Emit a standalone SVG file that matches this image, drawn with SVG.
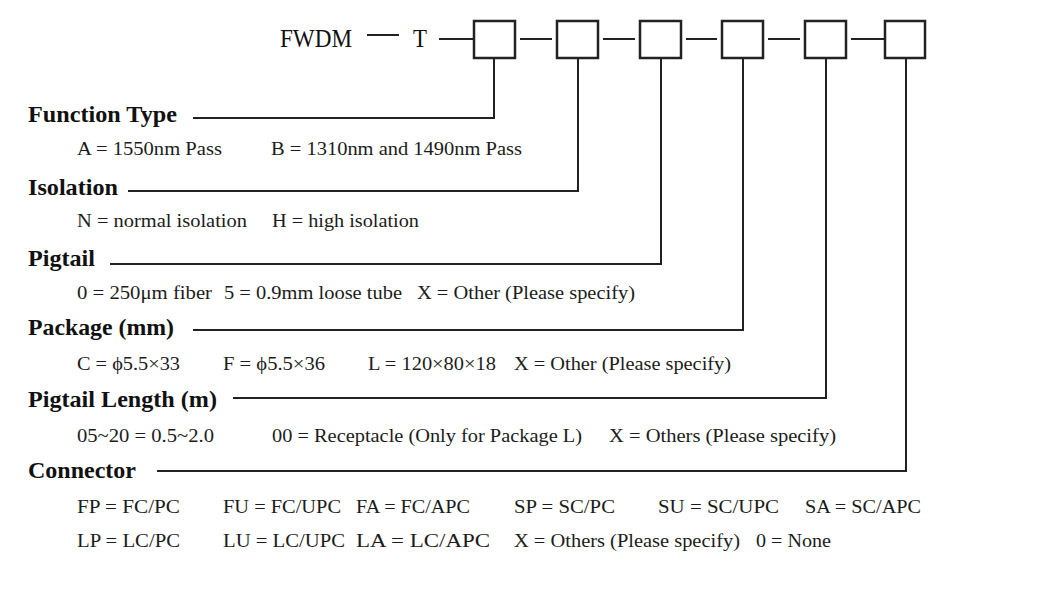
<svg xmlns="http://www.w3.org/2000/svg" width="1044" height="599" viewBox="0 0 1044 599">
<style>
text{font-family:"Liberation Serif","Times New Roman",serif;fill:#111}
.hd{font-size:23px;font-weight:bold}
.op{font-size:18px;fill:#1c1c1c}
.code{font-size:25px}
.box{fill:#fff;stroke:#222;stroke-width:2.5}
.ln{fill:none;stroke:#222;stroke-width:2}
</style>
<rect width="1044" height="599" fill="#fff"/>
<g id="code">
<text class="code" x="280" y="47" textLength="72" lengthAdjust="spacingAndGlyphs">FWDM</text>
<text class="code" x="413" y="47" textLength="14" lengthAdjust="spacingAndGlyphs">T</text>
</g>
<g id="box1"><rect class="box" x="474" y="21" width="41" height="37"/></g>
<g id="box2"><rect class="box" x="557" y="21" width="41" height="37"/></g>
<g id="box3"><rect class="box" x="640" y="21" width="41" height="37"/></g>
<g id="box4"><rect class="box" x="722" y="21" width="41" height="37"/></g>
<g id="box5"><rect class="box" x="805" y="21" width="41" height="37"/></g>
<g id="box6"><rect class="box" x="885" y="21" width="40" height="37"/></g>
<g id="connectors" class="ln">
<line x1="367" y1="35" x2="399" y2="35"/>
<line x1="439" y1="39" x2="474" y2="39"/>
<line x1="520" y1="39" x2="552" y2="39"/>
<line x1="603" y1="39" x2="635" y2="39"/>
<line x1="686" y1="39" x2="717" y2="39"/>
<line x1="768" y1="39" x2="800" y2="39"/>
<line x1="851" y1="39" x2="885" y2="39"/>
<polyline points="494,58 494,118 193,118"/>
<polyline points="578,58 578,191 128,191"/>
<polyline points="661,58 661,264 110,264"/>
<polyline points="743,58 743,330 193,330"/>
<polyline points="826,58 826,398 233,398"/>
<polyline points="906,58 906,471 157,471"/>
</g>
<g id="function-type">
<text class="hd" x="28" y="122" textLength="149" lengthAdjust="spacingAndGlyphs">Function Type</text>
<text class="op" x="77" y="155" textLength="145" lengthAdjust="spacingAndGlyphs">A = 1550nm Pass</text>
<text class="op" x="271" y="155" textLength="251" lengthAdjust="spacingAndGlyphs">B = 1310nm and 1490nm Pass</text>
</g>
<g id="isolation">
<text class="hd" x="28" y="195" textLength="90" lengthAdjust="spacingAndGlyphs">Isolation</text>
<text class="op" x="77" y="227" textLength="170" lengthAdjust="spacingAndGlyphs">N = normal isolation</text>
<text class="op" x="272" y="227" textLength="147" lengthAdjust="spacingAndGlyphs">H = high isolation</text>
</g>
<g id="pigtail">
<text class="hd" x="28" y="266" textLength="67" lengthAdjust="spacingAndGlyphs">Pigtail</text>
<text class="op" x="77" y="299" textLength="135" lengthAdjust="spacingAndGlyphs">0 = 250μm fiber</text>
<text class="op" x="224" y="299" textLength="178" lengthAdjust="spacingAndGlyphs">5 = 0.9mm loose tube</text>
<text class="op" x="417" y="299" textLength="218" lengthAdjust="spacingAndGlyphs">X = Other (Please specify)</text>
</g>
<g id="package">
<text class="hd" x="28" y="335" textLength="146" lengthAdjust="spacingAndGlyphs">Package (mm)</text>
<text class="op" x="77" y="370" textLength="103" lengthAdjust="spacingAndGlyphs">C = ϕ5.5×33</text>
<text class="op" x="223" y="370" textLength="102" lengthAdjust="spacingAndGlyphs">F = ϕ5.5×36</text>
<text class="op" x="368" y="370" textLength="128" lengthAdjust="spacingAndGlyphs">L = 120×80×18</text>
<text class="op" x="514" y="370" textLength="217" lengthAdjust="spacingAndGlyphs">X = Other (Please specify)</text>
</g>
<g id="pigtail-length">
<text class="hd" x="28" y="407" textLength="189" lengthAdjust="spacingAndGlyphs">Pigtail Length (m)</text>
<text class="op" x="77" y="442" textLength="137" lengthAdjust="spacingAndGlyphs">05~20 = 0.5~2.0</text>
<text class="op" x="272" y="442" textLength="310" lengthAdjust="spacingAndGlyphs">00 = Receptacle (Only for Package L)</text>
<text class="op" x="609" y="442" textLength="227" lengthAdjust="spacingAndGlyphs">X = Others (Please specify)</text>
</g>
<g id="connector">
<text class="hd" x="28" y="478" textLength="108" lengthAdjust="spacingAndGlyphs">Connector</text>
<text class="op" x="77" y="513" textLength="103" lengthAdjust="spacingAndGlyphs">FP = FC/PC</text>
<text class="op" x="223" y="513" textLength="118" lengthAdjust="spacingAndGlyphs">FU = FC/UPC</text>
<text class="op" x="356" y="513" textLength="114" lengthAdjust="spacingAndGlyphs">FA = FC/APC</text>
<text class="op" x="514" y="513" textLength="101" lengthAdjust="spacingAndGlyphs">SP = SC/PC</text>
<text class="op" x="658" y="513" textLength="121" lengthAdjust="spacingAndGlyphs">SU = SC/UPC</text>
<text class="op" x="805" y="513" textLength="116" lengthAdjust="spacingAndGlyphs">SA = SC/APC</text>
<text class="op" x="77" y="547" textLength="103" lengthAdjust="spacingAndGlyphs">LP = LC/PC</text>
<text class="op" x="223" y="547" textLength="122" lengthAdjust="spacingAndGlyphs">LU = LC/UPC</text>
<text class="op" x="356" y="547" textLength="134" lengthAdjust="spacingAndGlyphs">LA = LC/APC</text>
<text class="op" x="514" y="547" textLength="226" lengthAdjust="spacingAndGlyphs">X = Others (Please specify)</text>
<text class="op" x="756" y="547" textLength="75" lengthAdjust="spacingAndGlyphs">0 = None</text>
</g>
</svg>
